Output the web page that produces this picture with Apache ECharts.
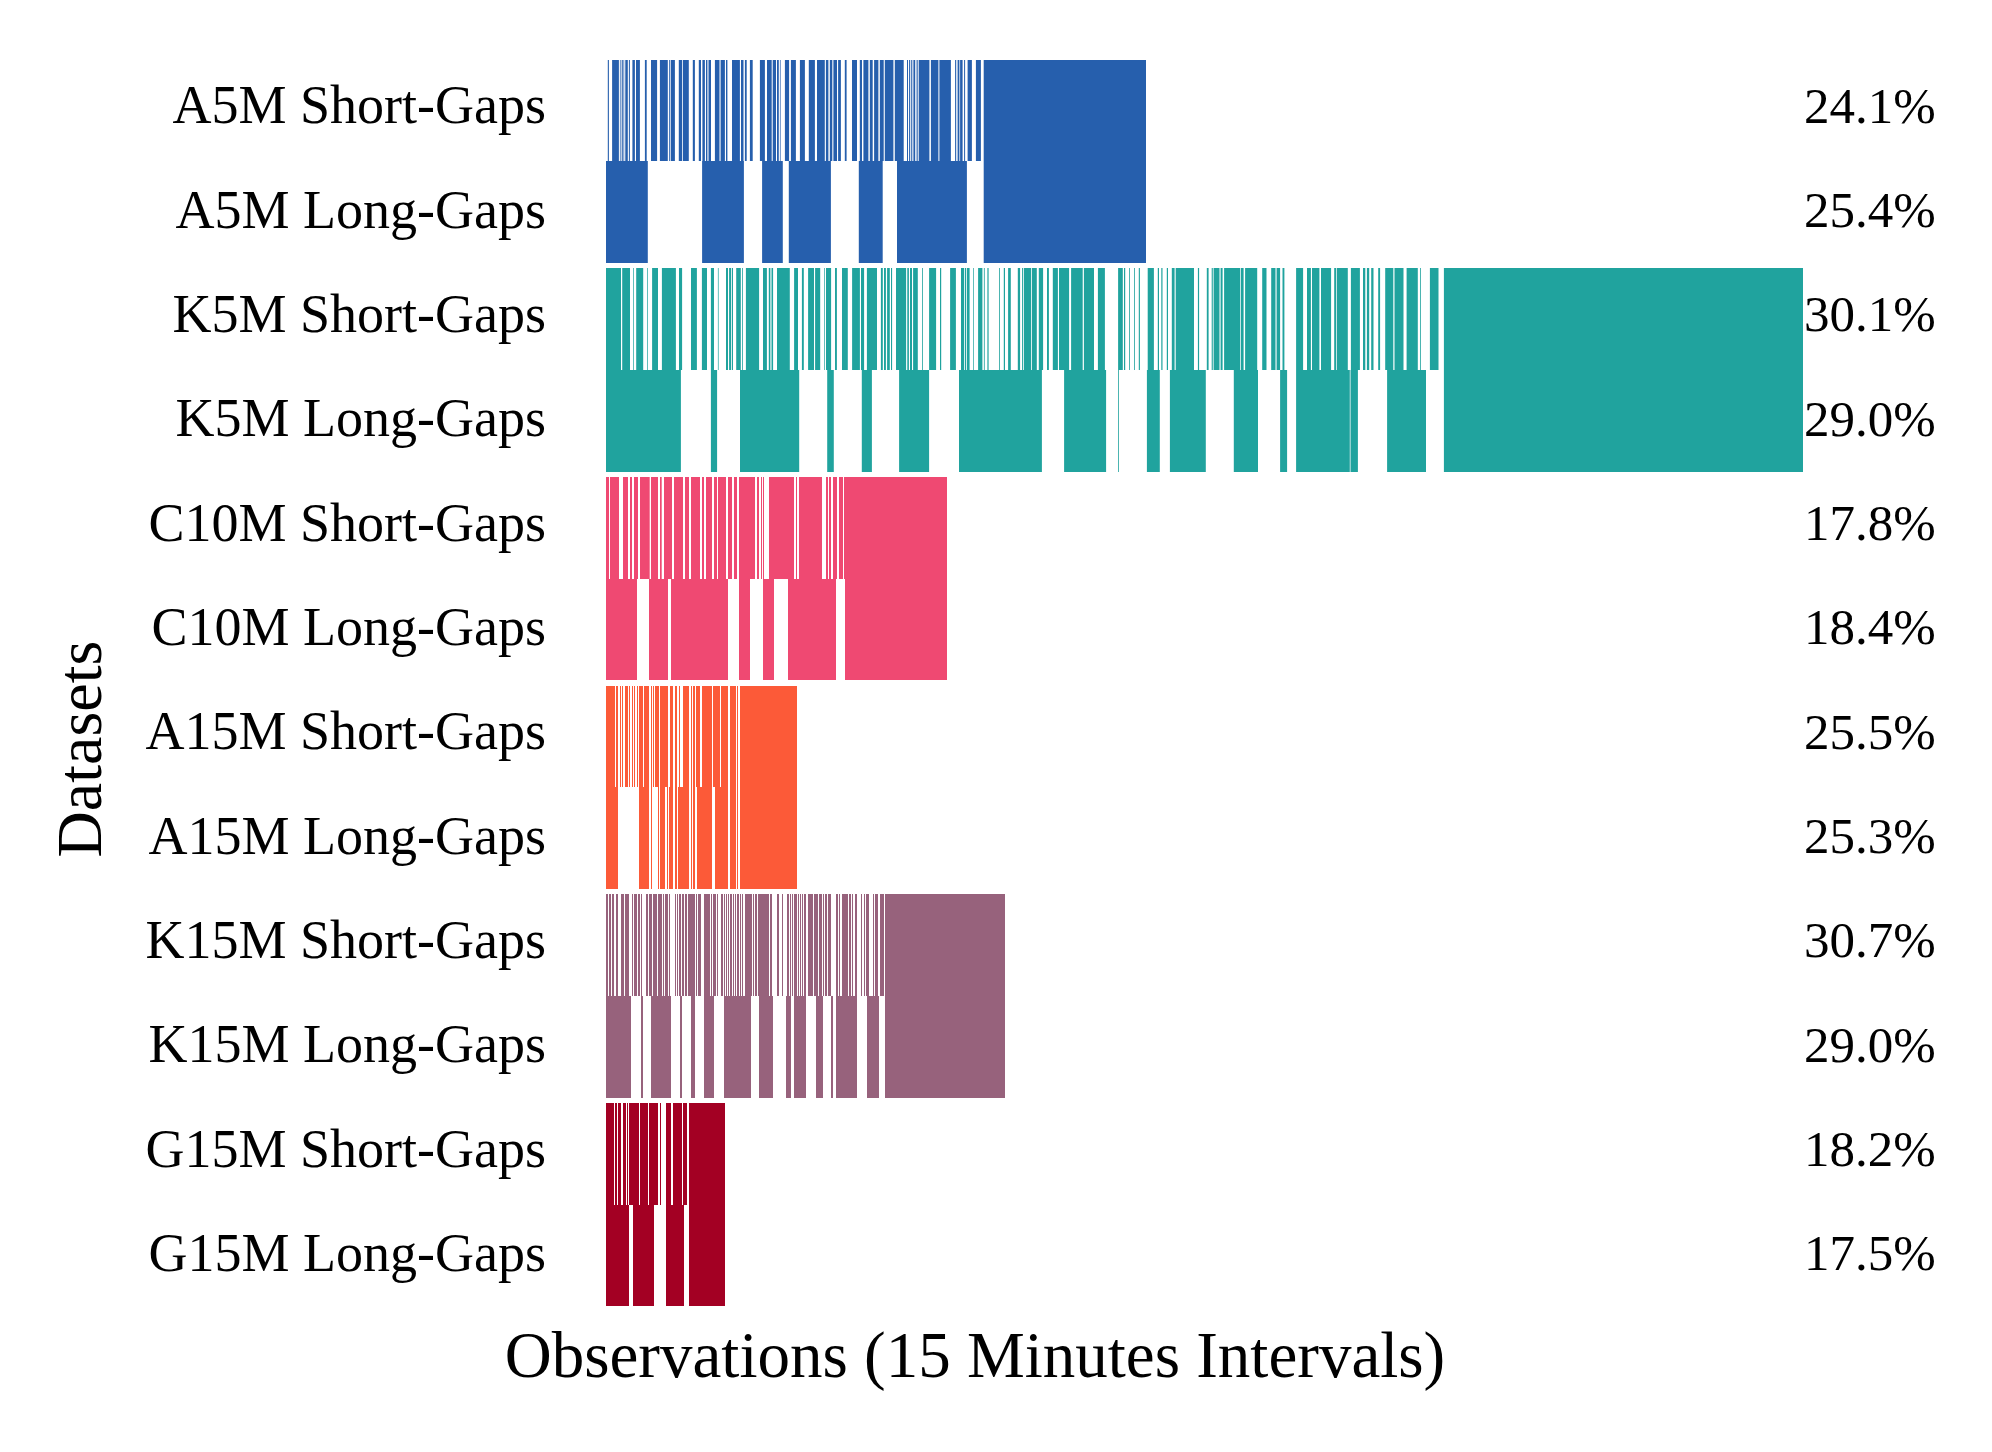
<!DOCTYPE html>
<html>
<head>
<meta charset="utf-8">
<title>Missing data patterns</title>
<script src="https://cdn.jsdelivr.net/npm/echarts@6/dist/echarts.min.js"></script>
<style>
  html, body { margin: 0; padding: 0; background: #fff; }
  #chart { width: 1992px; height: 1452px; }
</style>
</head>
<body>
<div id="chart"></div>
<script>
// rows, top to bottom
var rowNames = ['A5M Short-Gaps', 'A5M Long-Gaps', 'K5M Short-Gaps', 'K5M Long-Gaps',
  'C10M Short-Gaps', 'C10M Long-Gaps', 'A15M Short-Gaps', 'A15M Long-Gaps',
  'K15M Short-Gaps', 'K15M Long-Gaps', 'G15M Short-Gaps', 'G15M Long-Gaps'];
var missingPct = [24.1, 25.4, 30.1, 29.0, 17.8, 18.4, 25.5, 25.3, 30.7, 29.0, 18.2, 17.5];
// series length per dataset (two rows each)
var datasetLength = [540, 1197, 341, 191, 399, 119];
var datasetColors = ['#265FAD', '#20A39E', '#EF4972', '#FC5A38', '#97627C', '#A30023'];

// missing intervals [start, end] on the observation axis
var a5mShortGaps = [[0,1.8],[2.9,6.1],[12.9,13.9],[14.6,15.7],[16.8,17.5],[18.2,19.3],[21.8,22.9],[23.9,26.4],[28.9,30],[33.9,38.9],[40.7,45],[51.1,53.9],[61.8,63.2],[64.3,65],[68.9,72.8],[76,76.8],[82.8,86.8],[88.9,92.8],[95,96.4],[98.9,100],[101.4,102.5],[105,108.9],[113.5,114.6],[118.9,120],[121.4,126],[133.9,135],[137.5,138.9],[140.7,143.9],[146.7,153.9],[158.9,161],[165.7,166.7],[170,171],[172.8,173.9],[174.6,178.9],[183.1,184.9],[189.9,193.9],[198.9,202.8],[208.9,211],[218.8,219.9],[222.4,223.8],[226.3,227.4],[231,232.1],[234.9,238.8],[240.6,246],[251,253.8],[256,257.4],[262.4,263.8],[266.7,268.1],[272.4,273.8],[277.7,278.8],[287.4,288.8],[297.7,301],[302,303.1],[304.2,305.2],[306.3,307.4],[309.2,310.6],[311.7,312.7],[323.4,324.9],[332.4,333.4],[344.9,349.1],[350.2,351.6],[353.4,354.1],[356.6,358.1],[359.1,361.6],[365.9,369.9],[374.9,377.7]];
var a5mLongGaps = [[41.8,96.1],[137.9,156.1],[176.8,182.8],[224.9,252.8],[276.7,291],[360.9,377.7]];
var k5mShortGaps = [[15,16.2],[24,27.1],[27.8,30.2],[37.2,41.1],[41.8,46.1],[52,55.9],[69.9,73],[76.1,85],[90.9,95.9],[101,104.9],[108,111.9],[112.6,120],[122,123.1],[125.1,125.9],[127,130.2],[134.8,136],[136.8,139.9],[153.1,157],[160.9,162.8],[164.4,165.5],[167.1,171],[183.8,188.1],[192,195.9],[197.8,202.1],[208,209.1],[214.2,218.1],[218.8,220],[225.1,229],[230.9,236],[241.8,246.1],[253.9,255],[258.1,260.9],[271,274.9],[276.8,278],[279.9,281.1],[283.8,285],[286.1,290],[300.1,301.3],[302.9,304],[306,307.1],[311.8,316.1],[316.9,323.1],[330.1,334],[335.2,344.1],[349.9,355],[358.1,358.9],[360,360.8],[363.6,367.1],[367.8,372.1],[376.4,377.9],[378.7,381.4],[382.6,393.1],[393.9,397.8],[399,402.1],[404.8,411.8],[414.1,416.1],[417.2,418],[425,425.8],[430.8,432.8],[437.1,441],[442.9,446.8],[451.9,453],[463.1,465.1],[476.7,477.9],[488,491.9],[498.9,512.1],[516.8,518],[519.2,523],[523.8,528.1],[528.9,532.8],[533.9,541.7],[547.9,551.8],[553,555.3],[556.5,560.8],[562,565.8],[568.6,569.7],[588,591.9],[593.1,600.8],[602.6,605.7],[606.8,607.6],[613.5,614.6],[616.6,618.1],[634.1,634.8],[637.6,639.1],[651.2,656.2],[660.5,665.2],[669.5,670.6],[674.1,676.5],[678.4,690.1],[697.1,701],[704.9,706],[713.4,715],[725.1,728.2],[730.2,730.9],[741.8,744.9],[753.9,757],[759.3,760.9],[763.2,765.2],[767.5,772.2],[774.1,779.2],[787.3,788.5],[797.5,800.6],[811.8,814.2],[815,823.9],[832.5,837.9]];
var k5mLongGaps = [[74.9,104.9],[111.1,134],[193.2,221.2],[227.8,255.8],[265.9,293.1],[323.1,353],[435.9,458.1],[500.1,512.1],[512.9,540.9],[553.8,563.9],[599.8,627.8],[652,674.1],[681.1,690.1],[743.8,744.5],[751.9,781.1],[820,837.9]];
var c10mShortGaps = [[3,4],[13,17],[22,24],[26,28],[32,34],[43.7,45],[52,54],[55.7,58],[66,68],[77,79],[83,85],[94,96],[98,100],[106,108],[111,112],[120,122],[126,128],[131,133],[149,151],[153,155],[156,157],[158,163],[188,190],[191,193],[216,220],[222,223],[225,227],[231,233],[237,238]];
var c10mLongGaps = [[31,43],[62,65],[122,133],[144,157],[168,182],[230,239]];
var a15mShortGaps = [[9,10],[12,14],[15,16],[17,19],[22,23],[24,26],[27,28],[29,31],[32,33],[37,38],[43,45],[46,47],[48,49],[53,54],[62,64],[67,69],[71,73],[74,77],[83,85],[86,87],[89,90],[94,96],[106,107],[114,115],[122,124],[130,131],[132,134]];
var a15mLongGaps = [[12,33],[43,45],[46,52],[53,54],[59,61],[62,63],[67,69],[71,72],[83,85],[86,87],[89,91],[106,109],[122,124],[130,131],[132,134]];
var k15mShortGaps = [[2,3],[5,6],[8,10],[12,15],[18,19],[23,26],[27,28],[31,32],[34,35],[36,40],[42,43],[46,47],[51,52],[56,57],[58,59],[62,63],[64,69],[70,71],[72,73],[75,76],[78,79],[81,82],[89,90],[91,92],[95,98],[104,105],[106,107],[110,111],[112,115],[117,118],[119,120],[121,122],[123,124],[126,127],[128,129],[130,131],[133,134],[135,136],[137,139],[146,147],[148,149],[151,152],[163,164],[166,171],[173,176],[177,181],[183,184],[185,186],[187,188],[191,192],[193,194],[195,196],[197,198],[200,202],[207,208],[212,213],[216,217],[218,219],[221,222],[225,230],[232,233],[234,236],[242,243],[245,246],[247,249],[251,255],[256,258],[259,260],[263,267],[268,269],[272,274],[278,279]];
var k15mLongGaps = [[25,35],[37,45],[65,74],[76,85],[89,98],[108,118],[145,153],[167,180],[185,188],[200,210],[217,225],[227,230],[251,261],[273,279]];
var g15mShortGaps = [[8,9],[11,12],[15,17],[20,21],[22,23],[33,34],[42,43],[52,54],[55,60],[65,67],[76,77],[81,83]];
var g15mLongGaps = [[23,27],[48,60],[78,83]];

var rowGaps = [a5mShortGaps, a5mLongGaps, k5mShortGaps, k5mLongGaps, c10mShortGaps, c10mLongGaps,
  a15mShortGaps, a15mLongGaps, k15mShortGaps, k15mLongGaps, g15mShortGaps, g15mLongGaps];

var FONT = '"Liberation Serif", "Times New Roman", serif';

// observed runs = complement of the gaps inside [0, length]
var runs = [];
rowGaps.forEach(function (gaps, row) {
  var ds = Math.floor(row / 2);
  var len = datasetLength[ds];
  var pos = 0;
  gaps.forEach(function (g) {
    if (g[0] > pos) runs.push([pos, g[0], row, ds]);
    pos = Math.max(pos, g[1]);
  });
  if (pos < len) runs.push([pos, len, row, ds]);
});

var chart = echarts.init(document.getElementById('chart'), null, { renderer: 'canvas' });

chart.setOption({
  backgroundColor: '#fff',
  animation: false,
  grid: { left: 606, right: 189, top: 57, bottom: 143 },
  xAxis: {
    type: 'value', min: 0, max: datasetLength[1],
    axisLine: { show: false }, axisTick: { show: false },
    axisLabel: { show: false }, splitLine: { show: false }
  },
  yAxis: [{
    type: 'category', data: rowNames, inverse: true,
    axisLine: { show: false }, axisTick: { show: false },
    axisLabel: { margin: 60, fontFamily: FONT, fontSize: 54, color: '#000', padding: [0, 0, 10, 0] }
  }, {
    type: 'category', position: 'right', inverse: true,
    data: missingPct.map(function (v) { return v.toFixed(1) + '%'; }),
    axisLine: { show: false }, axisTick: { show: false },
    axisLabel: { margin: 1, fontFamily: FONT, fontSize: 51, color: '#000', padding: [0, 0, 10, 0] }
  }],
  series: [{
    type: 'custom',
    data: runs,
    encode: { x: [0, 1], y: 2 },
    renderItem: function (params, api) {
      var row = api.value(2);
      var a = api.coord([api.value(0), row]);
      var b = api.coord([api.value(1), row]);
      var band = api.size([0, 1])[1];
      var h = band - 2.83;
      // short-gap row sits at the bottom of its band, long-gap row at the top
      var top = (row % 2 === 0) ? a[1] + band / 2 - h : a[1] - band / 2;
      var y0 = Math.round(top), y1 = Math.round(top + h);
      return {
        type: 'rect',
        shape: { x: a[0], y: y0, width: b[0] - a[0], height: y1 - y0 },
        style: { fill: datasetColors[api.value(3)] }
      };
    }
  }],
  graphic: [{
    type: 'text', x: 975, y: 1360,
    style: { text: 'Observations (15 Minutes Intervals)', font: '65px ' + FONT,
      fill: '#000', align: 'center', verticalAlign: 'middle' }
  }, {
    type: 'text', x: 84, y: 749, rotation: Math.PI / 2,
    style: { text: 'Datasets', font: '64px ' + FONT,
      fill: '#000', align: 'center', verticalAlign: 'middle' }
  }]
});
</script>
</body>
</html>
